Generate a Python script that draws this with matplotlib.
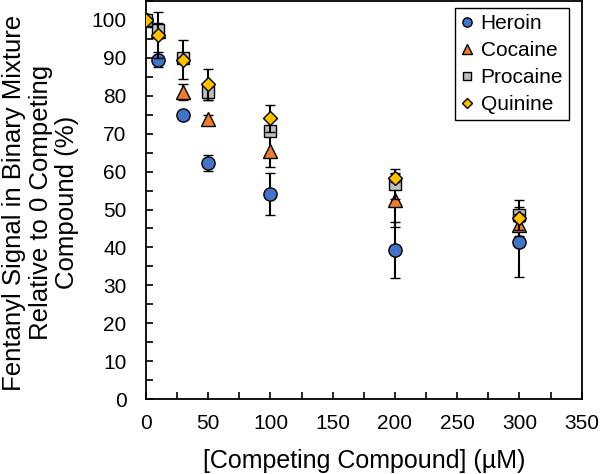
import matplotlib
matplotlib.use("Agg")
import matplotlib.pyplot as plt
from matplotlib.ticker import MultipleLocator

plt.rcParams["font.family"] = ["Liberation Sans", "DejaVu Sans"]

# Data
conc = [0, 10, 30, 50, 100, 200, 300]
heroin = [100, 89.5, 74.8, 62.3, 54.0, 39.3, 41.5]
heroin_err = [0, 2.0, 1.0, 2.2, 5.5, 7.3, 9.2]
cocaine = [100, 97.0, 81.0, 73.8, 65.3, 52.5, 46.0]
cocaine_err = [0, 1.0, 2.2, 1.0, 4.0, 7.0, 3.0]
procaine = [100, 97.3, 90.0, 81.0, 70.8, 56.8, 48.5]
procaine_err = [0, 2.0, 1.0, 2.0, 1.0, 4.0, 4.0]
quinine = [100, 96.0, 89.5, 83.0, 74.0, 58.3, 47.8]
quinine_err = [0, 6.0, 5.2, 4.0, 3.5, 1.0, 1.0]

series = [
    ("Heroin", heroin, heroin_err, "o", "#4472C4", 9.5),
    ("Cocaine", cocaine, cocaine_err, "^", "#ED7D31", 9.5),
    ("Procaine", procaine, procaine_err, "s", "#BFBFBF", 8.5),
    ("Quinine", quinine, quinine_err, "D", "#FFC000", 7),
]

fig = plt.figure(figsize=(6, 4.74), dpi=100)
ax = fig.add_axes([0.2433, 0.158, 0.7262, 0.840])

for i, (name, vals, err, mk, col, ms) in enumerate(series):
    ax.errorbar(
        conc,
        vals,
        yerr=err,
        fmt=mk,
        color=col,
        markerfacecolor=col,
        markeredgecolor="black",
        markeredgewidth=1.0,
        markersize=ms,
        ecolor="black",
        elinewidth=1.5,
        capsize=3.5,
        capthick=1.5,
        label=name,
        zorder=3 + i,
    )

ax.set_xlim(0, 350)
ax.set_ylim(0, 105)
ax.xaxis.set_major_locator(MultipleLocator(50))
ax.xaxis.set_minor_locator(MultipleLocator(25))
ax.yaxis.set_major_locator(MultipleLocator(10))
ax.yaxis.set_minor_locator(MultipleLocator(5))
ax.tick_params(which="both", direction="in", width=1.2, labelsize=15, colors="black")
ax.tick_params(which="both", length=5)
ax.tick_params(axis="y", which="major", pad=14)
ax.tick_params(axis="x", which="major", pad=11)
ax.set_yticks(range(0, 101, 10))
for s in ax.spines.values():
    s.set_linewidth(1.3)

ax.set_xlabel("[Competing Compound] (µM)", fontsize=18, labelpad=11)

# y label placed against the left edge, as in the original
fig.text(
    0.003,
    0.572,
    "Fentanyl Signal in Binary Mixture\nRelative to 0 Competing\nCompound (%)",
    fontsize=18.5,
    linespacing=1.15,
    rotation=90,
    ha="left",
    va="center",
    multialignment="center",
)

handles, labels = ax.get_legend_handles_labels()
handles = [h[0] for h in handles]
leg = ax.legend(
    handles,
    labels,
    loc="upper right",
    bbox_to_anchor=(0.972, 0.982),
    fontsize=15,
    markerscale=0.7,
    handlelength=0.6,
    handletextpad=0.35,
    labelspacing=0.38,
    borderpad=0.3,
    borderaxespad=0,
    fancybox=False,
    edgecolor="black",
    framealpha=1,
)
leg.get_frame().set_linewidth(1.0)

fig.savefig("out.png", dpi=100)
